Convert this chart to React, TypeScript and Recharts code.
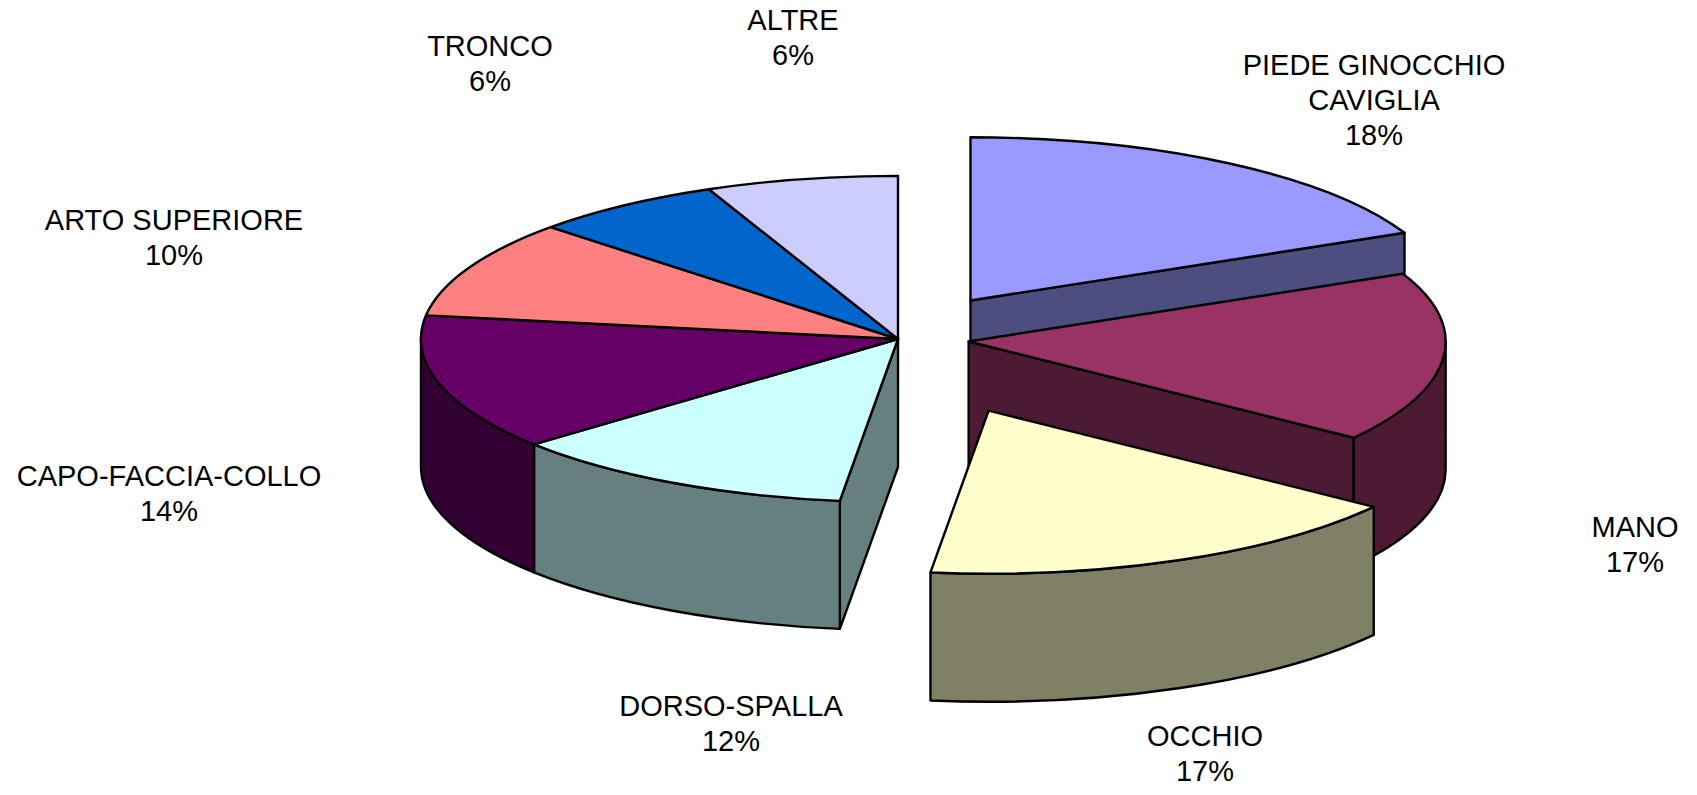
import React from "react";
import { PieChart, Pie } from "recharts";

const categories = [
  ["PIEDE GINOCCHIO", "CAVIGLIA"],
  ["MANO"],
  ["OCCHIO"],
  ["DORSO-SPALLA"],
  ["CAPO-FACCIA-COLLO"],
  ["ARTO SUPERIORE"],
  ["TRONCO"],
  ["ALTRE"],
];
const values = [18.19, 16.85, 16.9, 11.87, 13.5, 9.7, 6.49, 6.49];
const colors = ["#9999FF", "#993366", "#FFFFCC", "#CCFFFF", "#660066", "#FF8080", "#0066CC", "#CCCCFF"];
const explode = [134, 71, 228, 0, 0, 0, 0, 0];
const labelPos = [
  [1374, 75],
  [1635, 537],
  [1205, 746],
  [731, 716],
  [169, 486],
  [174, 230],
  [490, 56],
  [793, 30],
];

const TILT = 0.342;
const DEPTH = 128;
const LINE = 35;

const tableData = values.map((value, i) => ({
  name: categories[i].join(" "),
  value,
  fill: colors[i],
}));

// side faces are the top colour at half brightness
function darken(hex: string) {
  const n = parseInt(hex.slice(1), 16);
  const c = [(n >> 16) & 255, (n >> 8) & 255, n & 255].map((v) => Math.round(v / 2));
  return `rgb(${c[0]},${c[1]},${c[2]})`;
}

const rad = (a: number) => (a * Math.PI) / 180;

// recharts hands us plain sector angles, we squash them into an ellipse here
function Slice3D(props: any) {
  const { cx, cy, outerRadius: r, startAngle, endAngle, index, payload } = props;
  const i = index ?? tableData.findIndex((d) => d.name === payload?.name);
  const mid = (startAngle + endAngle) / 2;
  const ox = cx + explode[i] * Math.cos(rad(mid));
  const oy = cy - explode[i] * Math.sin(rad(mid)) * TILT;
  const ry = r * TILT;
  const pt = (a: number, dz = 0) => [ox + r * Math.cos(rad(a)), oy - ry * Math.sin(rad(a)) + dz];
  const fill = colors[i];
  const side = darken(fill);
  const common = { stroke: "#000", strokeWidth: 2.4, strokeLinejoin: "round" as const };

  const [sx, sy] = pt(startAngle);
  const [ex, ey] = pt(endAngle);
  const large = startAngle - endAngle > 180 ? 1 : 0;
  const top = `M${ox},${oy} L${sx},${sy} A${r},${ry} 0 ${large} 1 ${ex},${ey} Z`;

  // rim only shows on the front half
  const a0 = Math.min(startAngle, 0);
  const a1 = Math.max(endAngle, -180);
  let rim = null;
  if (a0 > a1) {
    const [x0, y0] = pt(a0);
    const [x1, y1] = pt(a1);
    rim = `M${x0},${y0} A${r},${ry} 0 0 1 ${x1},${y1} L${x1},${y1 + DEPTH} A${r},${ry} 0 0 0 ${x0},${y0 + DEPTH} Z`;
  }

  const n = values.length;
  const wall = (x: number, y: number) =>
    `M${ox},${oy} L${x},${y} L${x},${y + DEPTH} L${ox},${oy + DEPTH} Z`;
  const showStart = Math.cos(rad(startAngle)) < -1e-6 && explode[(i + n - 1) % n] !== explode[i];
  const showEnd = Math.cos(rad(endAngle)) > 1e-6 && explode[(i + 1) % n] !== explode[i];

  return (
    <g>
      {showStart && <path d={wall(sx, sy)} fill={side} {...common} />}
      {showEnd && <path d={wall(ex, ey)} fill={side} {...common} />}
      {rim && <path d={rim} fill={side} {...common} />}
      <path d={top} fill={fill} {...common} />
    </g>
  );
}

function SliceLabel(props: any) {
  const { index, percent } = props;
  const [x, y] = labelPos[index];
  const lines = [...categories[index], `${Math.round(percent * 100)}%`];
  return (
    <text x={x} y={y} textAnchor="middle" fontFamily="Liberation Sans" fontSize={29} fill="#000">
      {lines.map((t, k) => (
        <tspan key={k} x={x} dy={k === 0 ? 0 : LINE}>
          {t}
        </tspan>
      ))}
    </text>
  );
}

export default function App() {
  return (
    <div style={{ position: "absolute", left: 0, top: 0, width: 1697, height: 795, background: "#fff" }}>
      <PieChart width={1697} height={795} margin={{ top: 0, right: 0, bottom: 0, left: 0 }}>
        <Pie
          data={tableData}
          dataKey="value"
          nameKey="name"
          cx={898}
          cy={339}
          innerRadius={0}
          outerRadius={477}
          startAngle={90}
          endAngle={-270}
          shape={Slice3D}
          label={SliceLabel}
          labelLine={false}
          isAnimationActive={false}
        />
      </PieChart>
    </div>
  );
}
